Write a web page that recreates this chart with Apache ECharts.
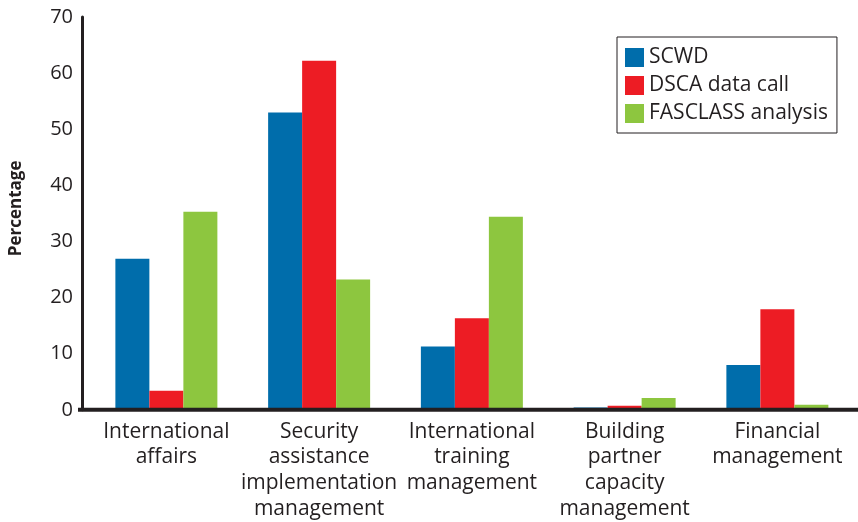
<!DOCTYPE html>
<html>
<head>
<meta charset="utf-8">
<script src="https://cdn.jsdelivr.net/npm/echarts@6/dist/echarts.min.js"></script>
<style>
  html, body { margin: 0; padding: 0; background: #fff; }
  #chart { width: 858px; height: 522px; }
</style>
</head>
<body>
<div id="chart"></div>
<script>
// Job categories on the horizontal axis
const categories = [
  'International\naffairs',
  'Security\nassistance\nimplementation\nmanagement',
  'International\ntraining\nmanagement',
  'Building\npartner\ncapacity\nmanagement',
  'Financial\nmanagement'
];

// Share of positions per source, in percent
const scwd = [26.9, 53.0, 11.3, 0.4, 8.0];
const dscaDataCall = [3.4, 62.2, 16.3, 0.7, 17.9];
const fasclassAnalysis = [35.3, 23.2, 34.4, 2.1, 0.9];

const seriesNames = ['SCWD', 'DSCA data call', 'FASCLASS analysis'];
const seriesColors = ['#006dab', '#ed1c24', '#8dc63f'];

const ink = '#231f20';
const font = '"Open Sans", "Noto Sans", sans-serif';

const chart = echarts.init(document.getElementById('chart'), null, { renderer: 'canvas' });

const gridLeft = 87.5;
const axisOffset = 8;

chart.setOption({
  animation: false,
  backgroundColor: '#ffffff',
  textStyle: { fontFamily: font, color: ink },
  grid: { left: gridLeft, right: 4.25, top: 17, bottom: 110, containLabel: false },
  legend: {
    orient: 'vertical',
    left: 617,
    top: 37,
    padding: [10, 9, 9, 8],
    borderColor: ink,
    borderWidth: 1,
    itemWidth: 19,
    itemHeight: 19,
    itemGap: 7,
    icon: 'rect',
    textStyle: { fontFamily: font, fontSize: 21, color: ink, lineHeight: 19 },
    data: seriesNames
  },
  xAxis: {
    type: 'category',
    data: categories,
    axisLine: { show: false },
    axisTick: { show: false },
    axisLabel: {
      interval: 0,
      margin: 9,
      fontFamily: font,
      fontSize: 21,
      lineHeight: 25.8,
      color: ink,
      align: 'center'
    }
  },
  yAxis: {
    type: 'value',
    min: 0,
    max: 70,
    interval: 10,
    offset: axisOffset,
    name: 'Percentage',
    nameLocation: 'middle',
    nameGap: 57,
    nameRotate: 90,
    nameTextStyle: { fontFamily: font, fontSize: 17, fontWeight: 'bold', color: ink, padding: [0, 0, 0, 10] },
    axisLine: { show: true, lineStyle: { color: ink, width: 3 } },
    axisTick: { show: false },
    splitLine: { show: false },
    axisLabel: { margin: 9, fontFamily: font, fontSize: 20, color: ink }
  },
  series: [
    { name: seriesNames[0], type: 'bar', data: scwd, barWidth: 34, barGap: '0%', itemStyle: { color: seriesColors[0] } },
    { name: seriesNames[1], type: 'bar', data: dscaDataCall, barWidth: 34, barGap: '0%', itemStyle: { color: seriesColors[1] } },
    { name: seriesNames[2], type: 'bar', data: fasclassAnalysis, barWidth: 34, barGap: '0%', itemStyle: { color: seriesColors[2] } }
  ]
});

// Baseline running from the vertical axis to the right edge of the chart
const zeroY = chart.convertToPixel({ yAxisIndex: 0 }, 0);
chart.setOption({
  graphic: [{
    type: 'line',
    z: 100,
    shape: { x1: gridLeft - axisOffset - 1.5, y1: zeroY, x2: chart.getWidth(), y2: zeroY },
    style: { stroke: ink, lineWidth: 4 }
  }]
});
</script>
</body>
</html>
